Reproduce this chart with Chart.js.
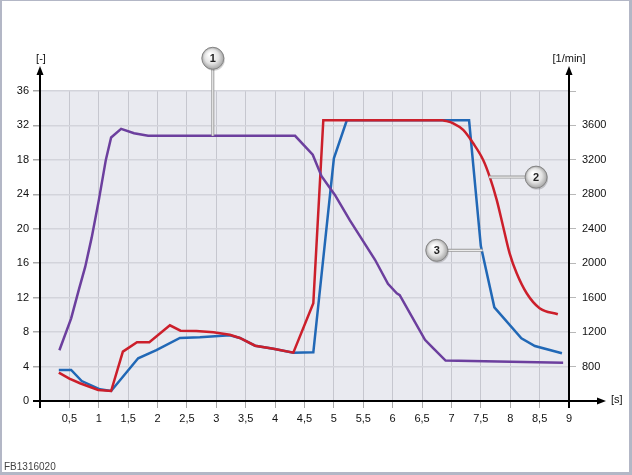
<!DOCTYPE html>
<html>
<head>
<meta charset="utf-8">
<script src="https://cdn.jsdelivr.net/npm/chart.js@4.4.1/dist/chart.umd.min.js"></script>
<style>
  html, body { margin: 0; padding: 0; background: #fff; }
  canvas { display: block; }
</style>
</head>
<body>
<canvas id="chart" width="632" height="475"></canvas>
<script>
// series 1: [-] (left axis)
const purpleTime  = [0.33, 0.53, 0.66, 0.77, 0.88, 1.0, 1.12, 1.21, 1.38, 1.6, 1.84, 4.34, 4.64, 4.79, 5.02, 5.27, 5.7, 5.92, 6.07, 6.12, 6.55, 6.68, 6.9, 8.9];
const purpleValue = [5.9, 9.6, 12.9, 15.6, 19.0, 23.3, 28.0, 30.6, 31.6, 31.1, 30.8, 30.8, 28.6, 26.1, 23.9, 21.0, 16.4, 13.6, 12.5, 12.3, 7.1, 6.2, 4.7, 4.45];

// series 2: [1/min] (right axis), rising part and smooth run-down
const redTime = [0.32, 0.5, 0.68, 0.99, 1.21, 1.41, 1.65, 1.86, 2.21, 2.39, 2.66, 2.95, 3.23, 3.4, 3.66, 3.97, 4.31, 4.65, 4.82, 6.86];
const redRpm  = [729, 660, 606, 528, 516, 973, 1082, 1082, 1279, 1216, 1213, 1198, 1170, 1132, 1042, 1007, 961, 1535, 3660, 3660];
const redTailTime = [6.86, 7.03, 7.2, 7.37, 7.54, 7.65, 7.77, 7.88, 7.99, 8.11, 8.28, 8.5, 8.81];
const redTailRpm  = [3660, 3625, 3548, 3393, 3199, 3005, 2735, 2424, 2115, 1883, 1651, 1477, 1407];

// series 3: [1/min] (right axis)
const blueTime = [0.32, 0.53, 0.71, 1.02, 1.21, 1.67, 1.98, 2.38, 2.72, 3.23, 3.4, 3.66, 3.97, 4.31, 4.65, 5.0, 5.22, 7.3, 7.5, 7.73, 8.19, 8.42, 8.88];
const blueRpm  = [760, 760, 632, 536, 516, 896, 992, 1132, 1140, 1163, 1132, 1042, 1007, 961, 966, 3219, 3660, 3660, 2200, 1488, 1128, 1039, 954];

const leftTickLabels  = ['0', '4', '8', '12', '16', '20', '24', '18', '32', '36'];
const rightTickLabels = ['', '800', '1200', '1600', '2000', '2400', '2800', '3200', '3600', ''];
const xTickLabels = ['', '0,5', '1', '1,5', '2', '2,5', '3', '3,5', '4', '4,5', '5', '5,5', '6', '6,5', '7', '7,5', '8', '8,5', '9'];

// numbered callouts (circle position and end of the leader line, in data units of x / left y)
const callouts = [
  { label: '1', at: [2.94, 39.8], to: [2.94, 30.8] },
  { label: '2', at: [8.44, 26.0], to: [7.64, 26.0] },
  { label: '3', at: [6.75, 17.5], to: [7.53, 17.5] }
];

const toPoints = (xs, ys) => xs.map((x, i) => ({ x: x, y: ys[i] }));

const FONT = { family: 'Liberation Sans, Arial, sans-serif', size: 11 };
const RED = '#cc1f2b';

const decorPlugin = {
  id: 'decor',
  beforeDraw(chart) {
    const { ctx, chartArea: a } = chart;
    ctx.save();
    ctx.fillStyle = '#fff';
    ctx.fillRect(0, 0, chart.width, chart.height);
    ctx.fillStyle = '#e9eaf0';
    ctx.fillRect(a.left, a.top, a.right - a.left, a.bottom - a.top);
    ctx.restore();
  },
  afterDatasetsDraw(chart) {
    const { ctx, chartArea: a, scales } = chart;
    ctx.save();
    ctx.strokeStyle = '#000';
    ctx.fillStyle = '#000';
    ctx.lineWidth = 2;
    const arrow = (x, y, dir) => {
      ctx.beginPath();
      if (dir === 'up') {
        ctx.moveTo(x, y); ctx.lineTo(x - 3.5, y + 9); ctx.lineTo(x + 3.5, y + 9);
      } else {
        ctx.moveTo(x, y); ctx.lineTo(x - 9, y - 3.5); ctx.lineTo(x - 9, y + 3.5);
      }
      ctx.closePath();
      ctx.fill();
    };
    // left axis
    ctx.beginPath(); ctx.moveTo(a.left, a.bottom + 7); ctx.lineTo(a.left, 74); ctx.stroke();
    arrow(a.left, 66, 'up');
    // right axis
    ctx.beginPath(); ctx.moveTo(a.right, a.bottom + 7); ctx.lineTo(a.right, 74); ctx.stroke();
    arrow(a.right, 66, 'up');
    // x axis
    ctx.beginPath(); ctx.moveTo(a.left - 7, a.bottom); ctx.lineTo(598, a.bottom); ctx.stroke();
    arrow(606, a.bottom, 'right');

    ctx.font = '11px Liberation Sans, Arial, sans-serif';
    ctx.fillStyle = '#111';
    ctx.textBaseline = 'middle';
    ctx.textAlign = 'center';
    ctx.fillText('[-]', a.left + 1, 59);
    ctx.fillText('[1/min]', a.right, 59);
    ctx.textAlign = 'left';
    ctx.fillText('[s]', 611, a.bottom - 1);

    // callouts
    const xs = scales.x, ys = scales.y;
    callouts.forEach(c => {
      const cx = xs.getPixelForValue(c.at[0]), cy = ys.getPixelForValue(c.at[1]);
      const tx = xs.getPixelForValue(c.to[0]), ty = ys.getPixelForValue(c.to[1]);
      ctx.lineCap = 'butt';
      ctx.strokeStyle = '#9a9a9a';
      ctx.lineWidth = 3;
      ctx.beginPath(); ctx.moveTo(cx, cy); ctx.lineTo(tx, ty); ctx.stroke();
      ctx.strokeStyle = '#fff';
      ctx.lineWidth = 1;
      ctx.beginPath(); ctx.moveTo(cx, cy); ctx.lineTo(tx, ty); ctx.stroke();

      const r = 11;
      ctx.fillStyle = 'rgba(0,0,0,0.18)';
      ctx.beginPath(); ctx.arc(cx + 1, cy + 1.5, r, 0, Math.PI * 2); ctx.fill();
      const g = ctx.createRadialGradient(cx - 3, cy - 4, 1, cx, cy, r);
      g.addColorStop(0, '#ffffff');
      g.addColorStop(0.6, '#e3e3e3');
      g.addColorStop(1, '#a5a5a5');
      ctx.fillStyle = g;
      ctx.beginPath(); ctx.arc(cx, cy, r, 0, Math.PI * 2); ctx.fill();
      ctx.strokeStyle = '#858585';
      ctx.lineWidth = 1;
      ctx.stroke();
      ctx.fillStyle = '#222';
      ctx.font = 'bold 11px Liberation Sans, Arial, sans-serif';
      ctx.textAlign = 'center';
      ctx.textBaseline = 'middle';
      ctx.fillText(c.label, cx, cy + 0.5);
    });

    // frame and figure id
    ctx.fillStyle = '#b3b7c6';
    ctx.fillRect(0, 0, chart.width, 1);
    ctx.fillRect(0, 0, 2, chart.height);
    ctx.fillRect(chart.width - 3, 0, 3, chart.height);
    ctx.fillRect(0, chart.height - 3, chart.width, 3);
    ctx.fillStyle = '#444';
    ctx.font = '10px Liberation Sans, Arial, sans-serif';
    ctx.textAlign = 'left';
    ctx.textBaseline = 'alphabetic';
    ctx.fillText('FB1316020', 4, 470);
    ctx.restore();
  }
};

new Chart(document.getElementById('chart'), {
  type: 'line',
  data: {
    datasets: [
      { data: toPoints(purpleTime, purpleValue), yAxisID: 'y', borderColor: '#6c3f9e' },
      { data: toPoints(redTime, redRpm), yAxisID: 'y2', borderColor: RED },
      { data: toPoints(redTailTime, redTailRpm), yAxisID: 'y2', borderColor: RED, cubicInterpolationMode: 'monotone' },
      { data: toPoints(blueTime, blueRpm), yAxisID: 'y2', borderColor: '#2168b6' }
    ].map(d => Object.assign({ borderWidth: 2.5, pointRadius: 0, tension: 0, fill: false }, d))
  },
  options: {
    responsive: false,
    animation: false,
    events: [],
    layout: { padding: { top: 91, left: 0, right: 0, bottom: 0 } },
    plugins: { legend: { display: false }, tooltip: { enabled: false } },
    scales: {
      x: {
        type: 'linear', min: 0, max: 9,
        afterFit: s => { s.height = 74; },
        afterBuildTicks: s => { s.ticks = xTickLabels.map((_, i) => ({ value: i * 0.5 })); },
        ticks: { autoSkip: false, maxRotation: 0, padding: 4, color: '#111', font: FONT,
                 callback: (v, i) => xTickLabels[i] },
        grid: { color: '#c6c7cf', lineWidth: 1, tickColor: '#a8a8a8', tickLength: 7 },
        border: { display: false }
      },
      y: {
        position: 'left', min: 0, max: 36,
        afterFit: s => { s.width = 40; },
        afterBuildTicks: s => { s.ticks = leftTickLabels.map((_, i) => ({ value: i * 4 })); },
        ticks: { padding: 4, color: '#111', font: FONT, callback: (v, i) => leftTickLabels[i] },
        grid: { color: '#d3d4db', lineWidth: 1.5, tickColor: '#a8a8a8', tickLength: 7 },
        border: { display: false }
      },
      y2: {
        position: 'right', min: 400, max: 4000,
        afterFit: s => { s.width = 63; },
        afterBuildTicks: s => { s.ticks = rightTickLabels.map((_, i) => ({ value: 400 + i * 400 })); },
        ticks: { padding: 6, color: '#111', font: FONT, callback: (v, i) => rightTickLabels[i] },
        grid: { drawOnChartArea: false, tickColor: '#b8b8b8', tickLength: 7 },
        border: { display: false }
      }
    }
  },
  plugins: [decorPlugin]
});
</script>
</body>
</html>
